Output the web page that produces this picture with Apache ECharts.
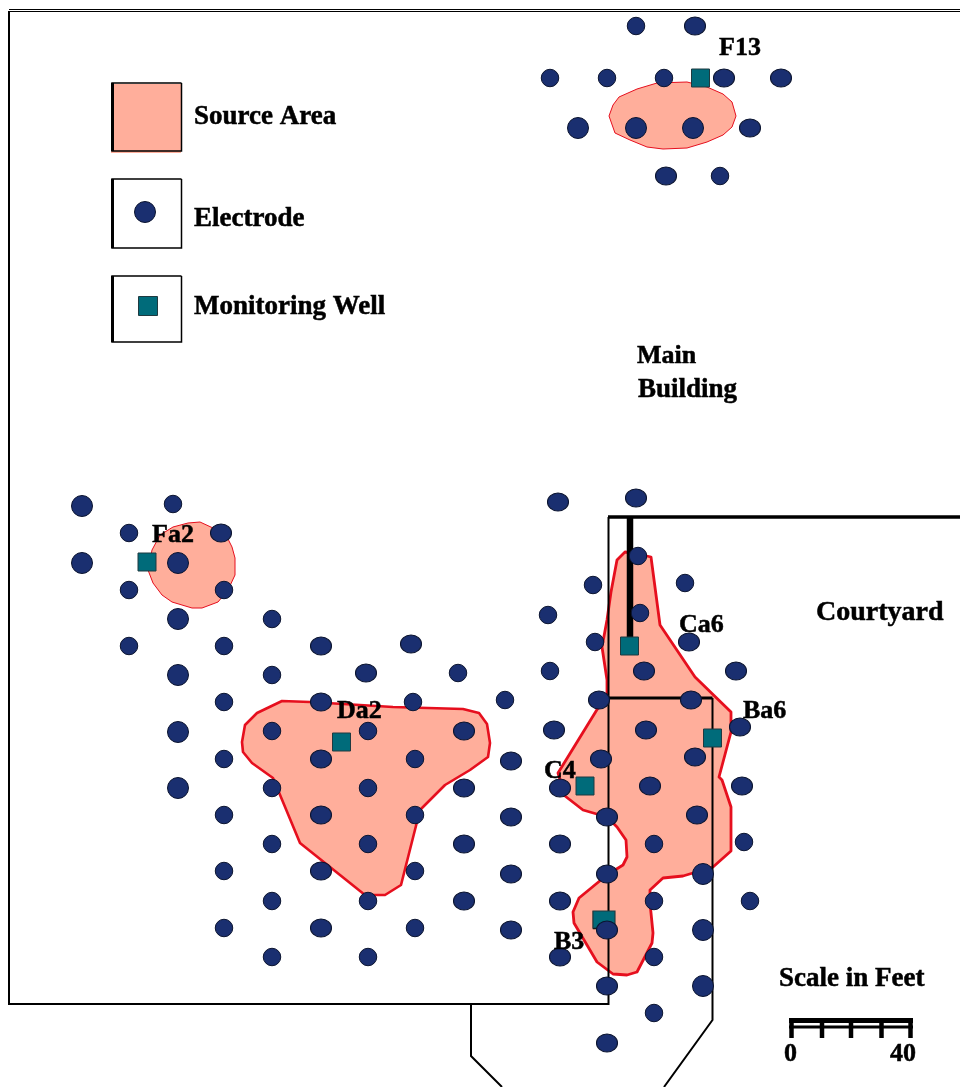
<!DOCTYPE html>
<html>
<head>
<meta charset="utf-8">
<style>html,body{margin:0;padding:0;background:#fff}#c{width:960px;height:1087px}</style>
<script src="https://cdn.jsdelivr.net/npm/echarts@6/dist/echarts.min.js"></script>
</head>
<body>
<div id="c"></div>
<script>
// Site coordinates (map units; y grows downward)
const electrodesSmall = [
 [636,26],[550,78],[607,78],[664,78],[720,176],
 [173,504],[129,533],[129,590],[224,590],[129,646],[224,646],[272,619],[272,675],[224,702],[272,731],[224,759],
 [368,731],[413,702],[458,673],[505,700],[415,759],
 [272,788],[368,788],[224,815],[415,815],[272,844],[368,844],[224,871],[415,871],
 [272,901],[368,901],[224,928],[415,928],[272,957],[368,957],
 [638,556],[593,585],[685,583],[548,615],[640,613],[595,642],[550,671],
 [654,844],[744,842],[654,901],[750,901],[654,957],[654,1013]
];
const electrodesOval = [
 [695,26],[724,78],[781,78],[750,128],[666,176],
 [221,533],[321,646],[411,644],[366,673],[321,702],[464,731],[321,759],[511,761],
 [464,788],[560,788],[321,815],[511,817],[607,817],[464,844],[560,844],[321,871],[511,874],[607,874],
 [464,901],[560,901],[321,928],[511,930],[607,930],[560,957],[607,986],[607,1043],
 [558,502],[636,498],[689,642],[644,671],[736,671],[599,700],[691,700],[554,730],[646,730],[740,727],
 [601,759],[695,757],[650,786],[742,786],[697,815]
];
const electrodesLarge = [
 [578,128],[636,128],[693,128],
 [82,506],[82,563],[178,563],[178,619],[178,675],[178,732],[178,788],
 [703,874],[703,930],[703,986]
];
const wells = [[700.5,78],[147,562],[341.5,742],[629.5,646],[712.5,738],[585,786]];
const wellB3 = [[604,919.5]];
const wellB3Shadow = [[594,911],[594,928],[610,928]];
const sourceF13 = [[609,116],[613,105],[619,97],[637,89],[657,83],[687,82],[707,87],[723,94],[732,102],[736,116],[732,127],[723,135],[707,142],[687,148],[663,149],[647,147],[630,140],[615,133]];
const sourceFa2 = [[148,570],[152,550],[160,535],[173,527],[188,523],[200,522],[213,528],[227,537],[232,547],[235,558],[235,575],[228,590],[218,602],[202,608],[192,608],[172,602],[162,595],[153,583]];
const sourceDa2 = [[282,701],[310,702],[393,707],[463,709],[479,713],[487,724],[490,743],[488,757],[470,770],[445,785],[420,810],[401,885],[385,895],[365,895],[300,843],[278,790],[273,778],[252,763],[243,752],[242,742],[245,725],[257,713]];
const sourceMain = [[625,552],[617,560],[611,592],[607,620],[602,647],[607,680],[607,697],[598,708],[558,773],[565,796],[583,810],[607,817],[617,827],[626,840],[627,857],[623,865],[607,875],[579,898],[573,912],[574,923],[597,962],[613,974],[627,975],[637,972],[652,943],[653,933],[650,903],[650,890],[663,878],[683,876],[713,867],[731,851],[731,807],[722,780],[719,777],[731,732],[731,712],[695,677],[660,625],[651,557],[638,554]];
const legendSwatch = [[113,84],[181,84],[181,153],[111,153]];
const frameTop1 = [[9,9.5],[960,9.5]];
const frameTop2 = [[9,11.5],[960,11.5]];
const frameOuter = [[9,11],[9,1004],[608.5,1004],[608.5,517]];
const courtTop = [[608,517],[960,517]];
const courtStem = [[630,517],[630,640]];
const courtMid = [[608,698],[712.5,698]];
const courtEast = [[712.5,698],[712.5,1020],[664,1087]];
const courtSouth = [[471,1004],[471,1056],[502,1087]];
const legendBoxA = [[181.5,83],[181.5,151],[112,151],[112,83],[181.5,83]];
const legendBoxB = [[181.5,179],[181.5,248],[112,248],[112,179],[181.5,179]];
const legendBoxC = [[181.5,276],[181.5,342],[112,342],[112,276],[181.5,276]];
const legendElectrode = [[145,212]];
const legendWell = [[148,306]];
const scaleBarTop = [[789,1020.5],[913,1020.5]];
const scaleBarLow = [[789,1027],[913,1027]];
const scaleTicks = [791.5,822,851,881.5,910.5];
const scaleTickEnds = [1018,1038];
const labelTexts = ['Source Area','Electrode','Monitoring Well','F13','Main','Building','Fa2','Da2','Ca6','Ba6','C4','B3','Courtyard','Scale in Feet','0','40'];
const labelXs = [194,194,194,719,637,638,152,337,679,743,544,554,816,779,784,890];
const labelYs = [117,219,307,48,356,390,535,711,625,711,771,942,613,979,1054,1054];
const wideLabels = ['Source Area','Electrode','Monitoring Well','Scale in Feet','Building'];

const RED='#E60F1E', SALMON='#FFAE9B', NAVY='#1A2F70', TEAL='#006B7A', INK='#000';
const OVAL='path://M-1,0A1,1 0 1 1 1,0A1,1 0 1 1 -1,0Z';

function area(pts,width){
  return {type:'custom',coordinateSystem:'cartesian2d',z:1,silent:true,data:pts,encode:{x:0,y:1},clip:false,
    renderItem:(p,api)=>p.dataIndex===0?{type:'polygon',shape:{points:pts.map(q=>api.coord(q))},
      style:{fill:SALMON,stroke:RED,lineWidth:width,lineJoin:'round'}}:null};
}
function wall(pts,width,color,z){
  return {type:'line',data:pts,showSymbol:false,symbol:'none',silent:true,z:z||2,clip:false,
    lineStyle:{color:color||INK,width:width,cap:'butt',join:'miter'}};
}
function dots(pts,size,sym){
  return {type:'scatter',data:pts,symbol:sym,symbolSize:size,symbolKeepAspect:false,z:4,silent:true,clip:false,
    itemStyle:{color:NAVY,borderColor:'#0b1430',borderWidth:1,opacity:1}};
}
function sq(pts,size,z){
  return {type:'scatter',data:pts,symbol:'rect',symbolSize:size,symbolKeepAspect:false,z:z,silent:true,clip:false,
    itemStyle:{color:TEAL,borderColor:'#1f3a40',borderWidth:1,opacity:1}};
}
const series=[
  area(sourceF13,1),area(sourceFa2,1),area(sourceDa2,2.6),area(sourceMain,2.8),
  {type:'custom',coordinateSystem:'cartesian2d',z:1,silent:true,data:legendSwatch,encode:{x:0,y:1},
    renderItem:(p,api)=>p.dataIndex===0?{type:'polygon',shape:{points:legendSwatch.map(q=>api.coord(q))},style:{fill:SALMON}}:null},
  wall(frameTop1,1.2,INK),wall(frameTop2,1.2,INK),wall(frameOuter,2),
  wall(courtTop,3.5),wall(courtStem,6.5),wall(courtMid,3),wall(courtEast,2),wall(courtSouth,2),
  wall(legendBoxA,1.5),wall(legendBoxB,1.5),wall(legendBoxC,1.5),
  wall([[112.5,83],[112.5,151]],3),wall([[112.5,179],[112.5,248]],3),wall([[112.5,276],[112.5,342]],3),
  wall(scaleBarTop,5),wall(scaleBarLow,3),
  ...scaleTicks.map(x=>wall([[x,scaleTickEnds[0]],[x,scaleTickEnds[1]]],4.5)),
  sq(wells,18,3),
  sq(wellB3,[22,17],3),
  wall(wellB3Shadow,2.5,INK,3),
  dots(electrodesSmall,17.5,'circle'),
  dots(electrodesOval,[21,18],OVAL),
  dots(electrodesLarge,21,'circle'),
  dots(legendElectrode,21,'circle'),
  sq(legendWell,19,3),
  {type:'custom',coordinateSystem:'cartesian2d',z:6,silent:true,clip:false,
    data:labelTexts.map((t,i)=>[labelXs[i],labelYs[i],t]),encode:{x:0,y:1},
    renderItem:(p,api)=>{const c=api.coord([api.value(0),api.value(1)]);
      const t=labelTexts[p.dataIndex];
      const size=t==='Courtyard'?28:(wideLabels.includes(t)?27:26);
      return {type:'text',style:{text:t,x:c[0],y:c[1],
        font:'bold '+size+'px "Liberation Serif"',fill:'#000',stroke:'#000',lineWidth:0.5,textAlign:'left',textVerticalAlign:'middle'}};}}
];
const chart=echarts.init(document.getElementById('c'),null,{renderer:'canvas',width:960,height:1087});
chart.setOption({
  animation:false,backgroundColor:'#fff',tooltip:{show:false},legend:{show:false},
  grid:{left:0,right:0,top:0,bottom:0,containLabel:false},
  xAxis:{type:'value',min:0,max:960,show:false},
  yAxis:{type:'value',min:0,max:1087,inverse:true,show:false},
  series
});
</script>
</body>
</html>
